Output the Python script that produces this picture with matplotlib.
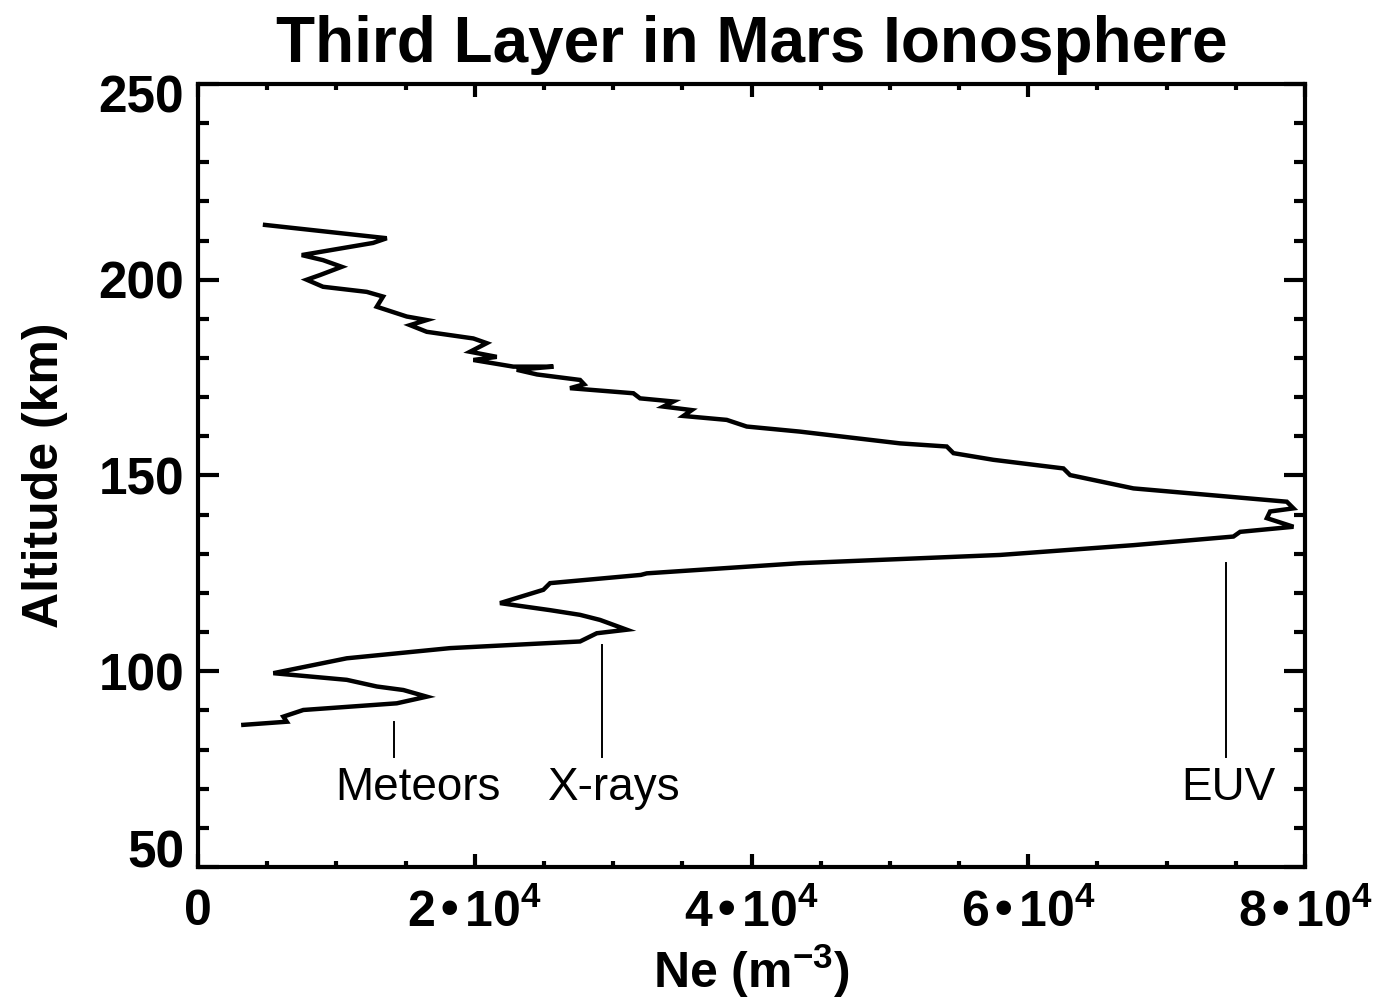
import numpy as np
import matplotlib
matplotlib.use("Agg")
import matplotlib.pyplot as plt
from matplotlib.transforms import ScaledTranslation

plt.rcParams['font.family'] = ['Liberation Sans', 'DejaVu Sans']

# electron density profile (Ne in m^-3, altitude in km)
ne = [4842, 13636, 12650, 7494, 9035, 10385, 8817, 7856, 9035, 12190,
      13370, 12915, 15083, 16528, 15321, 16528, 19896, 20863, 19657, 21586,
      19896, 22787, 25679, 23030, 24500, 27607, 27900, 26884, 31460, 31943,
      34351, 33628, 35680, 35073, 38205, 39650, 43506, 50734, 54108, 54590,
      57480, 62537, 63020, 67596, 78680, 79160, 77472, 77240, 79160, 75305,
      74823, 67596, 57961, 43506, 32427, 32000, 25439, 24956, 21826, 25439,
      27607, 29052, 30981, 28816, 27607, 18212, 10747, 5442, 10747, 12915,
      14838, 16528, 14359, 7610, 6165, 6410, 3274]
alt = [214.0, 210.6, 209.4, 206.3, 205.0, 203.3, 201.2, 200.0, 198.2, 196.9,
       195.7, 193.1, 190.6, 189.7, 188.4, 186.7, 185.0, 183.8, 181.6, 180.3,
       179.5, 177.8, 177.8, 177.0, 175.8, 174.4, 173.3, 172.3, 171.0, 169.7,
       168.9, 167.6, 166.7, 165.2, 164.2, 162.5, 161.2, 158.2, 157.4, 155.7,
       154.0, 151.8, 150.1, 146.7, 143.3, 141.6, 140.8, 139.1, 136.9, 135.6,
       134.4, 132.2, 129.7, 127.6, 125.0, 124.6, 122.5, 120.8, 117.4, 115.6,
       114.4, 113.1, 110.6, 109.7, 107.6, 105.9, 103.3, 99.5, 97.8, 96.1,
       95.2, 93.5, 91.8, 90.1, 88.4, 87.1, 86.3]

# source labels with their marker lines
src_names = ['Meteors', 'X-rays', 'EUV']
src_ne = [14164, 29196, 74290]
src_top = [87.0, 106.7, 127.7]
src_bottom = 78.1
src_text_alt = 67.1
src_text_ne = [15900, 30100, 74450]

xticks = [0, 20000, 40000, 60000, 80000]
xticklabels = ['0', r'$\mathregular{2•10^4}$', r'$\mathregular{4•10^4}$',
               r'$\mathregular{6•10^4}$', r'$\mathregular{8•10^4}$']
yticks = [50, 100, 150, 200, 250]

fig = plt.figure(figsize=(13.8, 10.01), dpi=100)
ax = fig.add_axes([0.1435, 0.1339, 0.8022, 0.7822])

ax.plot(ne, alt, color='black', lw=3.2, solid_joinstyle='miter')

for name, x, top, tx in zip(src_names, src_ne, src_top, src_text_ne):
    ax.plot([x, x], [src_bottom, top], color='black', lw=1.4)
    ax.text(tx, src_text_alt, name, ha='center', va='baseline', fontsize=33)

ax.set_xlim(0, 80000)
ax.set_ylim(50, 250)
ax.set_xticks(xticks)
ax.set_xticklabels(xticklabels)
ax.set_xticks(np.arange(0, 80001, 5000), minor=True)
ax.set_yticks(yticks)
ax.set_yticks(np.arange(50, 251, 10), minor=True)

for s in ax.spines.values():
    s.set_linewidth(3)

ax.tick_params(axis='both', which='both', direction='in', top=True, right=True,
               width=3)
ax.tick_params(axis='x', which='major', length=9.5, pad=16, labelsize=36)
ax.tick_params(axis='x', which='minor', length=4.5)
ax.tick_params(axis='y', which='major', length=15, pad=10, labelsize=37)
ax.tick_params(axis='y', which='minor', length=8)
for lab in ax.get_xticklabels() + ax.get_yticklabels():
    lab.set_fontweight('bold')

# keep end labels inside the frame, like the original
ylabs = ax.get_yticklabels()
ylabs[0].set_transform(ylabs[0].get_transform() + ScaledTranslation(0, 18 / 100, fig.dpi_scale_trans))
ylabs[-1].set_transform(ylabs[-1].get_transform() + ScaledTranslation(0, -10 / 100, fig.dpi_scale_trans))

ax.set_title('Third Layer in Mars Ionosphere', fontsize=46, fontweight='bold', pad=16)
ax.set_xlabel(r'Ne (m$\mathregular{^{-3}}$)', fontsize=36, fontweight='bold', labelpad=4)
ax.set_ylabel('Altitude (km)', fontsize=36, fontweight='bold', labelpad=22)

fig.savefig('out.png', dpi=100)
